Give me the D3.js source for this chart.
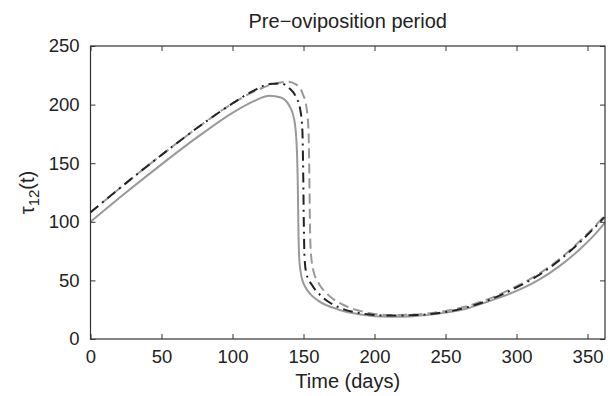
<!DOCTYPE html>
<html lang="en">
<head>
<meta charset="UTF-8">
<script src="https://d3js.org/d3.v7.min.js"></script>
<style>
  body { margin: 0; background: #fff; }
  text { font-family: "Liberation Sans", Arial, sans-serif; fill: #222; }
  .curve { fill: none; stroke-width: 2px; }
</style>
</head>
<body>
<script>
// Data (time in days, tau_12 in days)
var tSolid = [0, 25, 50, 75, 100, 115, 126, 134, 140, 143.5, 145.2, 146, 146.4, 147, 148.8, 151, 155, 160, 175, 190, 210, 225, 250, 265, 280, 300, 315, 330, 345, 355, 362];
var vSolid = [100, 125, 149, 172, 193, 203, 207.5, 206, 199, 187, 165, 130, 95, 68, 52, 45, 38, 33, 25, 21, 19, 19.3, 22.5, 26, 32, 41, 50, 62, 77, 89, 99];

var tDashDot = [0, 25, 50, 75, 100, 115, 126, 134, 140, 144.5, 147.8, 149.2, 149.8, 150.2, 150.7, 152, 156, 163, 175, 190, 210, 230, 250, 265, 280, 300, 315, 330, 345, 362];
var vDashDot = [108, 133, 157, 180, 201, 212, 217.5, 218, 214, 207, 195, 178, 140, 100, 70, 56, 46, 36, 27, 22, 20, 20.5, 23, 27, 33, 44, 54, 67, 83, 104];

var tDashed = [0, 25, 50, 75, 100, 115, 126, 139, 145, 149.5, 152.3, 153.6, 154.1, 154.5, 155.1, 157, 161, 168, 180, 195, 210, 230, 250, 265, 280, 300, 315, 330, 345, 362];
var vDashed = [108, 133, 157, 180, 201, 211, 216.5, 219.5, 217, 209, 196, 175, 140, 100, 75, 58, 47, 37, 28, 22.5, 20.5, 21, 24, 28, 34, 45, 55, 68, 84, 105];

var xTicks = [0, 50, 100, 150, 200, 250, 300, 350];
var yTicks = [0, 50, 100, 150, 200, 250];

var margin = { top: 46, right: 5, bottom: 57, left: 90.5 },
    width = 610 - margin.left - margin.right,
    height = 396 - margin.top - margin.bottom;

var x = d3.scaleLinear().domain([0, 362.3]).range([0, width]);
var y = d3.scaleLinear().domain([0, 250]).range([height, 0]);

var svg = d3.select("body").append("svg")
    .attr("width", 610)
    .attr("height", 396);

var g = svg.append("g")
    .attr("transform", "translate(" + margin.left + "," + margin.top + ")");

function pairs(ts, vs) {
  return ts.map(function (t, i) { return [t, vs[i]]; });
}

var line = d3.line()
    .x(function (d) { return x(d[0]); })
    .y(function (d) { return y(d[1]); })
    .curve(d3.curveMonotoneX);

// Curves
g.append("path").datum(pairs(tSolid, vSolid))
    .attr("class", "curve").attr("stroke", "#999").attr("d", line);
g.append("path").datum(pairs(tDashed, vDashed))
    .attr("class", "curve").attr("stroke", "#999")
    .attr("stroke-dasharray", "10,5").attr("d", line);
g.append("path").datum(pairs(tDashDot, vDashDot))
    .attr("class", "curve").attr("stroke", "#222")
    .attr("stroke-dasharray", "10,5,2,5").attr("d", line);

// Axes (MATLAB style: ticks inside, box on all sides)
var axisColor = "#333";
function styleAxis(sel) {
  sel.select(".domain").remove();
  sel.selectAll(".tick line").attr("stroke", axisColor);
  sel.selectAll(".tick text").attr("font-size", "18.5px").attr("fill", "#222")
     .attr("font-family", "'Liberation Sans', Arial, sans-serif");
}

g.append("g").attr("transform", "translate(0," + height + ")")
    .call(d3.axisBottom(x).tickValues(xTicks).tickSizeInner(-5).tickSizeOuter(0).tickPadding(11))
    .call(styleAxis);
g.append("g")
    .call(d3.axisLeft(y).tickValues(yTicks).tickSizeInner(-5).tickSizeOuter(0).tickPadding(11))
    .call(styleAxis);
g.append("g")
    .call(d3.axisTop(x).tickValues(xTicks).tickSizeInner(-5).tickSizeOuter(0).tickFormat(""))
    .call(styleAxis);
g.append("g").attr("transform", "translate(" + width + ",0)")
    .call(d3.axisRight(y).tickValues(yTicks).tickSizeInner(-5).tickSizeOuter(0).tickFormat(""))
    .call(styleAxis);

g.append("rect")
    .attr("width", width).attr("height", height)
    .attr("fill", "none").attr("stroke", axisColor).attr("stroke-width", 1.2);

// Title and labels
svg.append("text")
    .attr("x", margin.left + width / 2).attr("y", 28)
    .attr("text-anchor", "middle").attr("font-size", "20px")
    .attr("fill", "#222")
    .text("Pre\u2212oviposition period");

svg.append("text")
    .attr("x", margin.left + width / 2).attr("y", 388)
    .attr("text-anchor", "middle").attr("font-size", "20px")
    .attr("fill", "#222")
    .text("Time (days)");

var yl = svg.append("text")
    .attr("transform", "translate(34," + (margin.top + height / 2) + ") rotate(-90)")
    .attr("text-anchor", "middle").attr("font-size", "20px")
    .attr("fill", "#222");
yl.append("tspan").attr("fill", "#222").text("\u03c4");
yl.append("tspan").attr("dy", 5).attr("font-size", "15px").attr("fill", "#222").text("12");
yl.append("tspan").attr("dy", -5).attr("fill", "#222").text("(t)");
</script>
</body>
</html>
